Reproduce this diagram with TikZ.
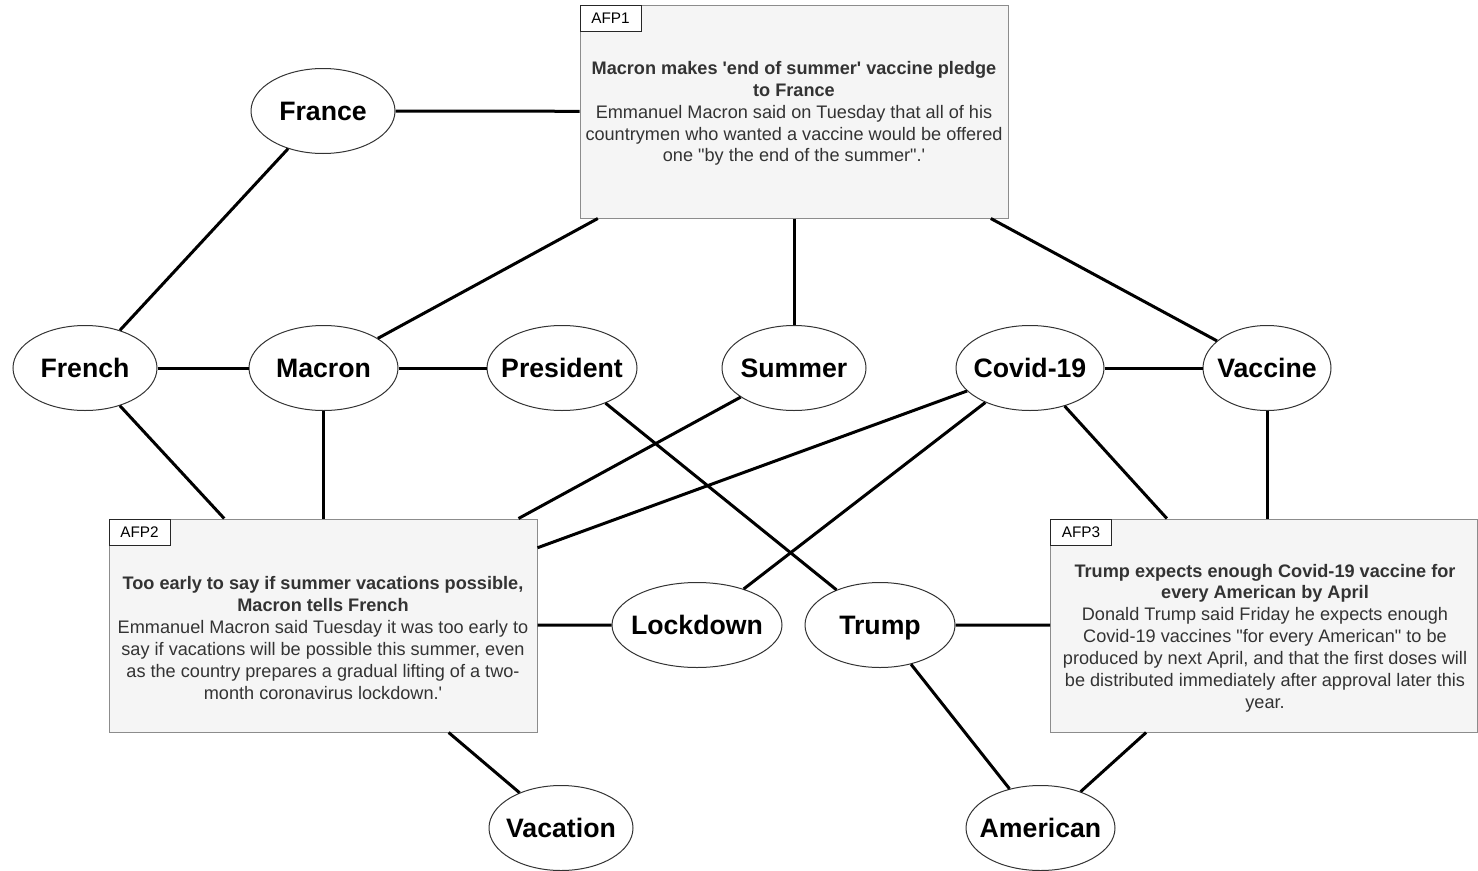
\documentclass[tikz,border=0pt]{standalone}
\usepackage{fontspec}
\setmainfont{Liberation Sans}
\usetikzlibrary{shapes.geometric}
\definecolor{boxfill}{HTML}{F5F5F5}
\definecolor{boxline}{HTML}{8C8C8C}
\definecolor{boxtext}{HTML}{333333}
\newcommand{\sq}{\textquotesingle}
\newcommand{\dq}{\textquotedbl}
% keyword label of zero width, so the ellipse keeps its set size
\newcommand{\kw}[1]{\makebox[0pt]{#1}}
\begin{document}
\begin{tikzpicture}[x=0.75pt,y=-0.75pt,
  term/.style={ellipse, draw=black!80, line width=0.75pt, fill=white,
    minimum height=63.75pt, inner sep=0pt, text height=14.4pt, text depth=0pt,
    font=\fontsize{20}{23}\selectfont\bfseries},
  newsbox/.style={rectangle, draw=boxline, line width=0.75pt, fill=boxfill,
    minimum height=159.75pt, inner sep=0pt},
  tagbox/.style={rectangle, draw=black!85, line width=0.75pt, fill=white,
    minimum width=45.75pt, minimum height=19.5pt, inner sep=0pt,
    anchor=north west, font=\fontsize{11.5}{13}\selectfont},
  newstext/.style={align=center, text=boxtext, inner sep=0pt,
    font=\fontsize{13.6}{16.4}\selectfont},
  link/.style={line width=2.25pt, black}]
\useasboundingbox (0,0) rectangle (1478,871);

% article boxes
\node[newsbox, minimum width=321pt] (afp1) at (794,111.5) {};
\node[tagbox] (tag1) at (afp1.north west) {AFP1};
\node[newstext] (txt1) at (794,113.5)
  {\textbf{Macron makes \sq end of summer\sq\ vaccine pledge}\\
   \textbf{to France}\\
   Emmanuel Macron said on Tuesday that all of his\\
   countrymen who wanted a vaccine would be offered\\
   one \dq by the end of the summer\dq.\sq};

\node[newsbox, minimum width=321pt] (afp2) at (323,625.5) {};
\node[tagbox] (tag2) at (afp2.north west) {AFP2};
\node[newstext] (txt2) at (323,638)
  {\textbf{Too early to say if summer vacations possible,}\\
   \textbf{Macron tells French}\\
   Emmanuel Macron said Tuesday it was too early to\\
   say if vacations will be possible this summer, even\\
   as the country prepares a gradual lifting of a two-\\
   month coronavirus lockdown.\sq};

\node[newsbox, minimum width=320.25pt] (afp3) at (1264,625.5) {};
\node[tagbox] (tag3) at (afp3.north west) {AFP3};
\node[newstext] (txt3) at (1265,638)
  {\textbf{Trump expects enough Covid-19 vaccine for}\\
   \textbf{every American by April}\\
   Donald Trump said Friday he expects enough\\
   Covid-19 vaccines \dq for every American\dq\ to be\\
   produced by next April, and that the first doses will\\
   be distributed immediately after approval later this\\
   year.};

% keyword ellipses
\node[term, minimum width=108pt]    (france)    at (323,111)    {\kw{France}};
\node[term, minimum width=108pt]    (french)    at (85,368)     {\kw{French}};
\node[term, minimum width=111.75pt] (macron)    at (323.5,368)  {\kw{Macron}};
\node[term, minimum width=112.5pt]  (president) at (562,368)    {\kw{President}};
\node[term, minimum width=108pt]    (summer)    at (794,368)    {\kw{Summer}};
\node[term, minimum width=111pt]    (covid)     at (1030,368)   {\kw{Covid-19}};
\node[term, minimum width=96pt]     (vaccine)   at (1267,368)   {\kw{Vaccine}};
\node[term, minimum width=127.5pt]  (lockdown)  at (697,625)    {\kw{Lockdown}};
\node[term, minimum width=112.5pt]  (trump)     at (880,625)    {\kw{Trump}};
\node[term, minimum width=108pt]    (vacation)  at (561,828)    {\kw{Vacation}};
\node[term, minimum width=111.75pt] (american)  at (1040.5,828) {\kw{American}};

% links
\draw[link] (france) -- (afp1);
\draw[link] (france) -- (french);
\draw[link] (afp1) -- (macron);
\draw[link] (afp1) -- (summer);
\draw[link] (afp1) -- (vaccine);
\draw[link] (french) -- (macron);
\draw[link] (macron) -- (president);
\draw[link] (covid) -- (vaccine);
\draw[link] (french) -- (afp2);
\draw[link] (macron) -- (macron |- afp2.north);
\draw[link] (summer) -- (afp2);
\draw[link] (covid) -- (afp2);
\draw[link] (covid) -- (lockdown);
\draw[link] (covid) -- (afp3);
\draw[link] (vaccine) -- (vaccine |- afp3.north);
\draw[link] (president) -- (trump);
\draw[link] (afp2) -- (lockdown);
\draw[link] (trump) -- (afp3);
\draw[link] (afp2) -- (vacation);
\draw[link] (trump) -- (american);
\draw[link] (afp3) -- (american);
\end{tikzpicture}
\end{document}
